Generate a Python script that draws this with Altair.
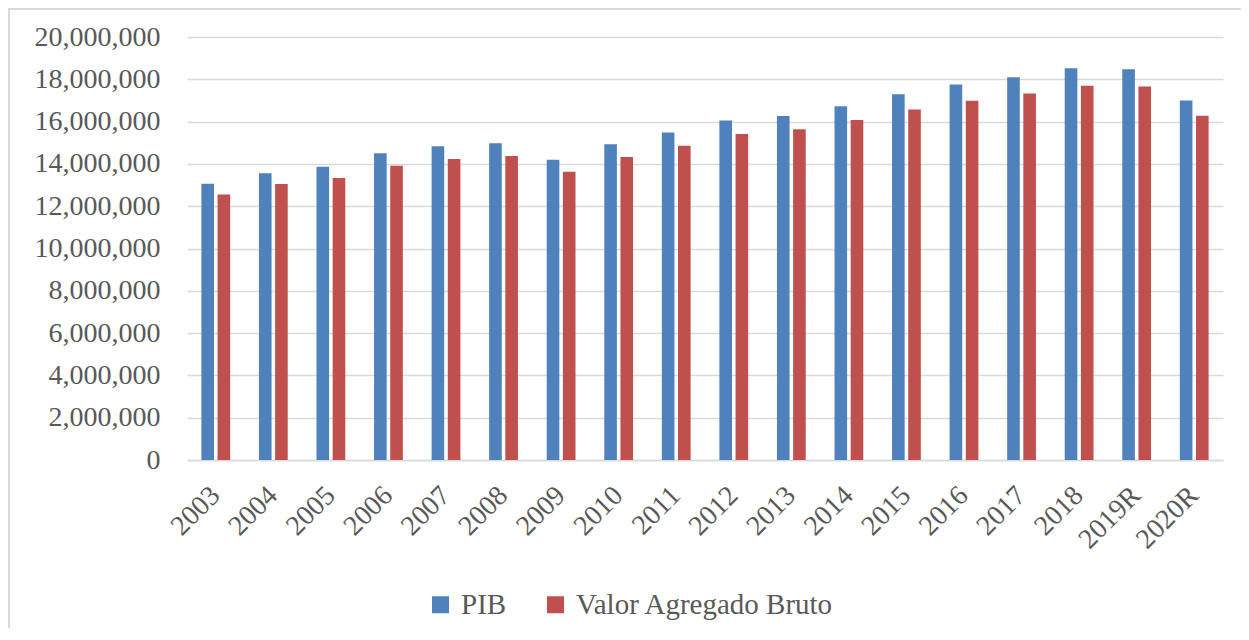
import altair as alt
import pandas as pd

years = ["2003", "2004", "2005", "2006", "2007", "2008", "2009", "2010", "2011",
         "2012", "2013", "2014", "2015", "2016", "2017", "2018", "2019R", "2020R"]
pib = [13060000, 13560000, 13860000, 14500000, 14830000, 14980000, 14200000, 14930000, 15490000,
       16050000, 16270000, 16720000, 17290000, 17750000, 18100000, 18520000, 18480000, 17000000]
vab = [12550000, 13050000, 13330000, 13910000, 14230000, 14370000, 13630000, 14330000, 14860000,
       15410000, 15640000, 16070000, 16570000, 16980000, 17330000, 17690000, 17660000, 16280000]
series = ["PIB", "Valor Agregado Bruto"]
colors = ["#4F81BD", "#C0504D"]
y_ticks = [0, 2000000, 4000000, 6000000, 8000000, 10000000, 12000000, 14000000,
           16000000, 18000000, 20000000]

rows = []
for i, yr in enumerate(years):
    rows.append({"year": yr, "serie": series[0], "valor": pib[i]})
    rows.append({"year": yr, "serie": series[1], "valor": vab[i]})
df = pd.DataFrame(rows)

FONT = "Liberation Serif"
W, H = 1036, 423

bars = alt.Chart(df).mark_bar().encode(
    x=alt.X("year:N", sort=years, title=None,
            scale=alt.Scale(paddingInner=0.5, paddingOuter=0.25),
            axis=alt.Axis(labelAngle=-45, labelAlign="right", labelBaseline="middle",
                          labelPadding=31, ticks=False, domain=True,
                          domainColor="#d9d9d9", domainWidth=1.5,
                          labelFont=FONT, labelFontSize=28, labelColor="#595959",
                          grid=False)),
    xOffset=alt.XOffset("serie:N", sort=series,
                        scale=alt.Scale(paddingInner=0.22, paddingOuter=0)),
    y=alt.Y("valor:Q", title=None,
            scale=alt.Scale(domain=[0, 20000000], nice=False),
            axis=alt.Axis(values=y_ticks, format=",d", ticks=False, domain=False,
                          labelPadding=27, labelFont=FONT, labelFontSize=28,
                          labelColor="#595959", gridColor="#d9d9d9", gridWidth=1.5)),
    color=alt.Color("serie:N", sort=series, title=None,
                    scale=alt.Scale(domain=series, range=colors),
                    legend=alt.Legend(orient="none", legendX=239, legendY=553,
                                      direction="horizontal", symbolType="square",
                                      symbolSize=289, symbolStrokeWidth=0,
                                      labelFont=FONT, labelFontSize=29,
                                      labelColor="#595959", labelOffset=6,
                                      columnPadding=34, labelLimit=400)),
)

one = alt.Data(values=[{"k": 1}])
frame = alt.Chart(one).mark_rect(
    fill="white", fillOpacity=0, stroke="#d9d9d9", strokeWidth=2
).encode(
    x=alt.value(-178), x2=alt.value(W + 200),
    y=alt.value(-28), y2=alt.value(H + 400),
)

chart = alt.layer(bars, frame).properties(
    width=W, height=H,
    background="white",
    view=alt.ViewBackground(strokeWidth=0, strokeOpacity=0),
    autosize=alt.AutoSizeParams(type="none"),
    padding={"left": 179, "top": 29, "right": 18, "bottom": 168},
).configure(
    font=FONT,
    view=alt.ViewConfig(strokeWidth=0, strokeOpacity=0),
)

chart.save("out.html", embed_options={"renderer": "svg", "actions": False})
